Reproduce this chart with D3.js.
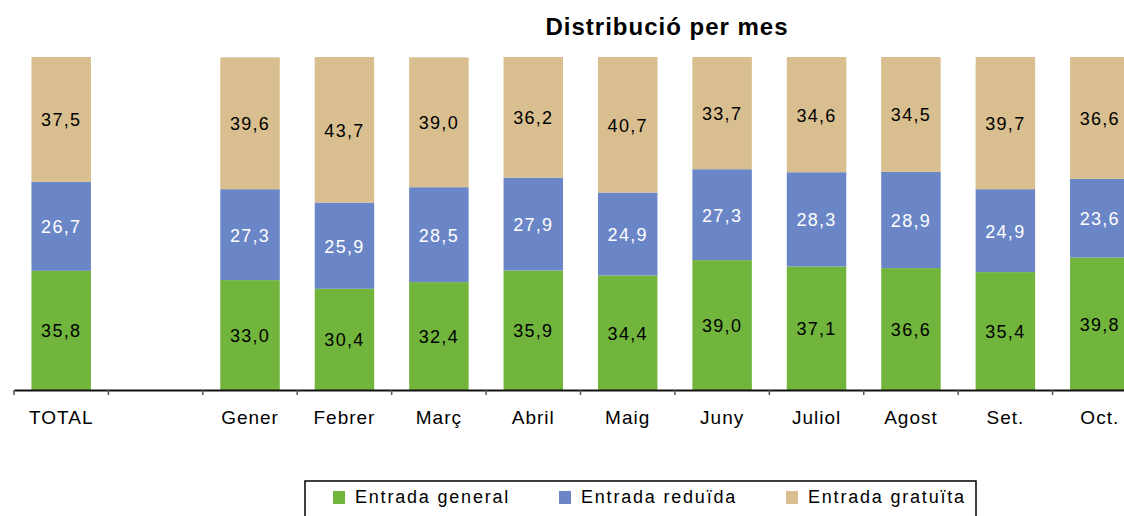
<!DOCTYPE html>
<html>
<head>
<meta charset="utf-8">
<script src="https://cdn.jsdelivr.net/npm/d3@7"></script>
<style>
  body { margin: 0; background: #fff; }
  svg { display: block; font-family: Arial, "Liberation Sans", sans-serif; }
</style>
</head>
<body>
<svg width="1124" height="516"></svg>
<script>
// categories (second slot is an empty gap on the original chart)
const categories = ['TOTAL', '', 'Gener', 'Febrer', 'Març', 'Abril', 'Maig', 'Juny', 'Juliol', 'Agost', 'Set.', 'Oct.'];

const general  = [35.8, null, 33.0, 30.4, 32.4, 35.9, 34.4, 39.0, 37.1, 36.6, 35.4, 39.8];
const reduida  = [26.7, null, 27.3, 25.9, 28.5, 27.9, 24.9, 27.3, 28.3, 28.9, 24.9, 23.6];
const gratuita = [37.5, null, 39.6, 43.7, 39.0, 36.2, 40.7, 33.7, 34.6, 34.5, 39.7, 36.6];

const seriesNames = ['Entrada general', 'Entrada reduïda', 'Entrada gratuïta'];
const colors = ['#71b53d', '#6a86c6', '#d9bf8f'];
const labelColors = ['#000', '#fff', '#000'];

const svg = d3.select('svg');

// build rows for the stack
const rows = categories.map((c, i) => ({
    cat: c, idx: i,
    general: general[i] || 0,
    reduida: reduida[i] || 0,
    gratuita: gratuita[i] || 0,
    empty: general[i] == null
}));
const keys = ['general', 'reduida', 'gratuita'];
const stacked = d3.stack().keys(keys)(rows);

// scales (range runs past the right edge: the original is cropped there)
const xScale = d3.scaleBand()
    .domain(d3.range(categories.length))
    .range([14, 1147])
    .paddingInner(0.37)
    .paddingOuter(0.185);

const yScale = d3.scaleLinear()
    .domain([0, 100])
    .range([390, 57]);

// title
svg.append('text')
    .text('Distribució per mes')
    .attr('x', 667).attr('y', 35)
    .attr('text-anchor', 'middle')
    .attr('font-size', 24).attr('font-weight', 'bold')
    .attr('letter-spacing', 1)
    .attr('fill', '#000');

// bars
const layers = svg.selectAll('g.layer')
    .data(stacked)
    .enter().append('g')
    .attr('class', 'layer')
    .attr('fill', (d, i) => colors[i]);

layers.selectAll('rect')
    .data(d => d.filter(p => !p.data.empty))
    .enter().append('rect')
    .attr('x', d => xScale(d.data.idx))
    .attr('width', xScale.bandwidth())
    .attr('y', d => yScale(d[1]))
    .attr('height', d => yScale(d[0]) - yScale(d[1]));

// value labels
layers.each(function(layer, li) {
    d3.select(this).selectAll('text')
        .data(layer.filter(p => !p.data.empty))
        .enter().append('text')
        .attr('x', d => xScale(d.data.idx) + xScale.bandwidth() / 2)
        .attr('y', d => (yScale(d[0]) + yScale(d[1])) / 2 + 7)
        .attr('text-anchor', 'middle')
        .attr('font-size', 18)
        .attr('letter-spacing', 1.3)
        .attr('fill', labelColors[li])
        .text(d => d3.format('.1f')(d[1] - d[0]).replace('.', ','));
});

// x axis: line + labels, ticks between categories
const gX = svg.append('g').attr('transform', 'translate(0,390)');
gX.call(d3.axisBottom(xScale).tickSize(0).tickFormat(i => categories[i]));
gX.select('.domain').attr('stroke', '#111').attr('stroke-width', 2);
gX.selectAll('.tick text')
    .attr('dy', 0).attr('y', 34)
    .attr('font-size', 19)
    .attr('letter-spacing', 1)
    .attr('font-family', 'Arial, "Liberation Sans", sans-serif')
    .attr('fill', '#000');

const step = xScale.step();
gX.selectAll('line.sep')
    .data(d3.range(categories.length + 1))
    .enter().append('line')
    .attr('class', 'sep')
    .attr('x1', i => 14 + i * step)
    .attr('x2', i => 14 + i * step)
    .attr('y1', 0).attr('y2', 5)
    .attr('stroke', '#555').attr('stroke-width', 1.5);

// legend
const legend = svg.append('g');
legend.append('rect')
    .attr('x', 305).attr('y', 481)
    .attr('width', 671).attr('height', 50)
    .attr('fill', 'none').attr('stroke', '#000').attr('stroke-width', 1.5);

const legendX = [333, 559, 786];
const items = legend.selectAll('g.item')
    .data(seriesNames)
    .enter().append('g')
    .attr('class', 'item')
    .attr('transform', (d, i) => `translate(${legendX[i]},489)`);
items.append('rect')
    .attr('width', 12).attr('height', 13).attr('y', 2)
    .attr('fill', (d, i) => colors[i]);
items.append('text')
    .attr('x', 22).attr('y', 14)
    .attr('font-size', 18)
    .attr('letter-spacing', 1.8)
    .attr('fill', '#000')
    .text(d => d);
</script>
</body>
</html>
